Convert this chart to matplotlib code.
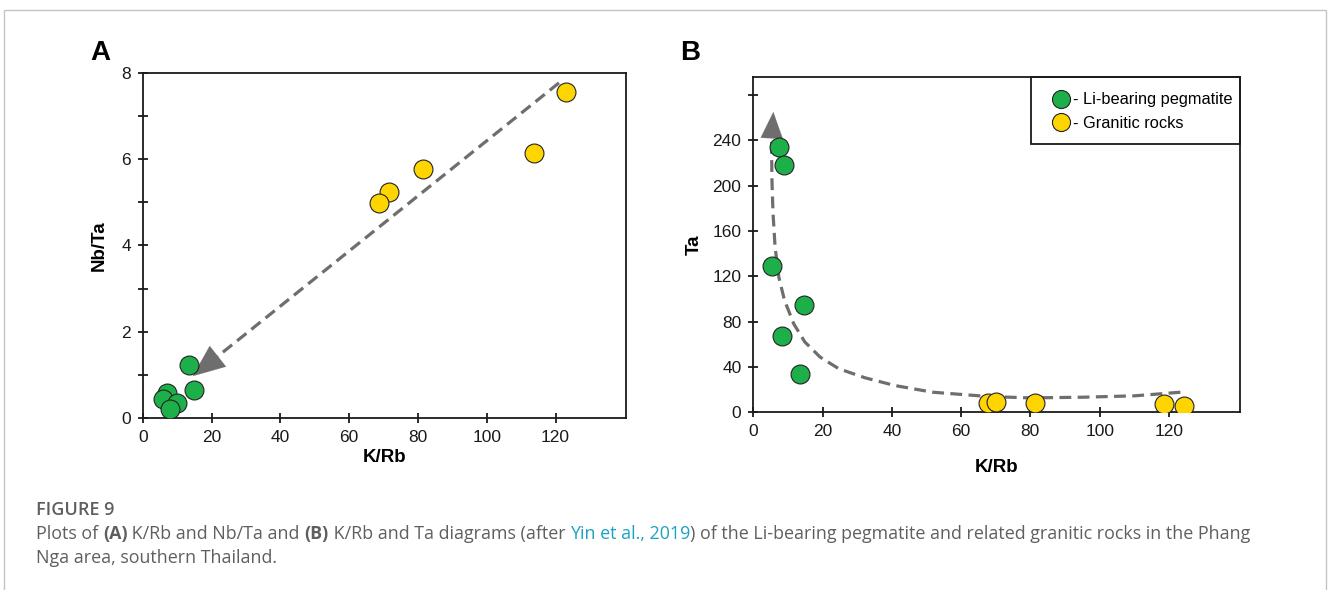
import matplotlib
matplotlib.use("Agg")
import matplotlib.pyplot as plt
from matplotlib.lines import Line2D
from matplotlib.patches import Rectangle

# ---- data ----
# panel A: K/Rb vs Nb/Ta
a_peg_krb = [13.4, 14.8, 7.1, 5.9, 10.0, 7.8]
a_peg_nbta = [1.24, 0.64, 0.58, 0.43, 0.35, 0.22]
a_gra_krb = [123.1, 113.8, 81.4, 71.5, 68.8]
a_gra_nbta = [7.57, 6.14, 5.77, 5.23, 4.99]
a_arrow_tail = (121.0, 7.77)
a_arrow_tip = (14.5, 0.97)

# panel B: K/Rb vs Ta
b_peg_krb = [7.4, 9.0, 5.4, 14.6, 8.4, 13.5]
b_peg_ta = [234, 218, 129, 94.5, 67, 34]
b_gra_krb = [67.8, 70.2, 81.2, 118.7, 124.3]
b_gra_ta = [8.0, 9.4, 8.6, 7.4, 5.9]
# hand drawn trend curve (dashed), from right to the arrow head
b_curve_krb = [123.3, 110.0, 95.1, 79.9, 68.0, 51.8, 40.9, 32.3, 24.7, 19.3,
               14.9, 11.7, 9.0, 7.4, 6.3, 5.7, 5.4, 5.3, 5.3]
b_curve_ta = [17.7, 14.5, 13.3, 12.7, 13.9, 17.7, 23.6, 30.4, 38.4, 48.7,
              62, 78, 99, 119, 146, 176, 205, 231, 243]
b_arrow_tip = (5.8, 265)

green = "#1db04a"
yellow = "#ffd500"
grey = "#6e6e6e"
cap_grey = "#5f5f5f"
link = "#1aa3c4"

plt.rcParams['font.family'] = ['Liberation Sans', 'DejaVu Sans']
cap_font = ["Open Sans", "DejaVu Sans"]

fig = plt.figure(figsize=(13.28, 5.9), dpi=100)

# outer frame
fig.patches.append(Rectangle((4 / 1328, -0.05), 1322 / 1328, 1.05 - 10 / 590,
                             transform=fig.transFigure, fill=False,
                             edgecolor="#c4c4c4", lw=1.0))

axA = fig.add_axes([0.1075, 0.2915, 0.3639, 0.5848])
axB = fig.add_axes([0.5672, 0.3012, 0.3665, 0.5688])


def style(ax):
    for s in ax.spines.values():
        s.set_linewidth(1.3)
        s.set_color("#1a1a1a")
    ax.tick_params(direction="inout", length=7, width=1.3, labelsize=12.5,
                   pad=5, color="#1a1a1a", labelcolor="#1a1a1a")
    ax.set_xlim(0, 140.5)
    ax.set_xticks([0, 20, 40, 60, 80, 100, 120])


mk = dict(s=185, edgecolors="#222222", linewidths=0.8, zorder=3)
dash = (0, (3.7, 2))

# ---- panel A ----
style(axA)
axA.set_ylim(0, 8)
axA.set_yticks(range(0, 9))
axA.set_yticklabels([str(v) if v % 2 == 0 else "" for v in range(0, 9)])
axA.plot([a_arrow_tail[0], a_arrow_tip[0] + 4], [a_arrow_tail[1], a_arrow_tip[1] + 0.25],
         color=grey, lw=2.3, ls=dash, zorder=2)
axA.annotate("", xy=a_arrow_tip, xytext=(a_arrow_tip[0] + 7, a_arrow_tip[1] + 0.44),
             arrowprops=dict(arrowstyle="-|>,head_length=2.3,head_width=0.95",
                             color=grey, lw=0.1, shrinkA=0, shrinkB=0), zorder=2)
axA.scatter(a_gra_krb, a_gra_nbta, color=yellow, **mk)
axA.scatter(a_peg_krb, a_peg_nbta, color=green, **mk)
axA.set_xlabel("K/Rb", fontsize=13.5, fontweight="bold", labelpad=3)
axA.set_ylabel("Nb/Ta", fontsize=13.5, fontweight="bold", labelpad=10)
fig.text(100 / 1328, 1 - 53 / 590, "A", fontsize=20, fontweight="bold",
         ha="center", va="center")

# ---- panel B ----
style(axB)
axB.set_ylim(0, 296)
axB.set_yticks([0, 40, 80, 120, 160, 200, 240, 280])
axB.set_yticklabels(["0", "40", "80", "120", "160", "200", "240", ""])
axB.plot(b_curve_krb, b_curve_ta, color=grey, lw=2.3, ls=dash, zorder=2)
axB.annotate("", xy=b_arrow_tip, xytext=(b_curve_krb[-1], b_curve_ta[-1] - 4),
             arrowprops=dict(arrowstyle="-|>,head_length=1.9,head_width=0.8",
                             color=grey, lw=0.1, shrinkA=0, shrinkB=0), zorder=2)
axB.scatter(b_gra_krb, b_gra_ta, color=yellow, **mk)
axB.scatter(b_peg_krb, b_peg_ta, color=green, **mk)
axB.set_xlabel("K/Rb", fontsize=13.5, fontweight="bold", labelpad=14)
axB.set_ylabel("Ta", fontsize=13.5, fontweight="bold", labelpad=7)
fig.text(690 / 1328, 1 - 53 / 590, "B", fontsize=20, fontweight="bold",
         ha="center", va="center")

handles = [Line2D([], [], ls="", marker="o", markersize=13, markerfacecolor=c,
                  markeredgecolor="#222222", markeredgewidth=0.8) for c in (green, yellow)]
axB.legend(handles, ["- Li-bearing pegmatite", "- Granitic rocks"], loc="center left",
           bbox_to_anchor=(0.612, 0.8957), frameon=False, fontsize=11.8,
           borderpad=0, handlelength=1.15, handletextpad=0.2, labelspacing=0.52,
           borderaxespad=0)
axB.add_patch(Rectangle((0.5706, 0.7995), 0.4294, 0.2005, transform=axB.transAxes,
                        fill=False, lw=1.3, edgecolor="#1a1a1a", clip_on=False, zorder=4))

# ---- caption ----
fig.text(36 / 1328, 1 - 510 / 590, "FIGURE 9", fontsize=13, color=cap_grey,
         fontweight="semibold", family=cap_font, va="center")

pieces = [("Plots of ", "normal", cap_grey), ("(A)", "bold", cap_grey),
          (" K/Rb and Nb/Ta and ", "normal", cap_grey), ("(B)", "bold", cap_grey),
          (" K/Rb and Ta diagrams (after ", "normal", cap_grey),
          ("Yin et al., 2019", "normal", link),
          (") of the Li-bearing pegmatite and related granitic rocks in the Phang",
           "normal", cap_grey)]
cap_size = 12.9
prev = fig.text(36 / 1328, 1 - 543 / 590, pieces[0][0], fontsize=cap_size,
                color=pieces[0][2], family=cap_font, va="bottom")
for txt, w, c in pieces[1:]:
    # each piece starts where the previous one ends
    prev = plt.annotate(txt, xy=(1, 0), xycoords=prev, va="bottom", ha="left",
                        fontsize=cap_size, color=c, fontweight=w, family=cap_font,
                        annotation_clip=False)
fig.text(36 / 1328, 1 - 567 / 590, "Nga area, southern Thailand.", va="bottom",
         fontsize=cap_size, color=cap_grey, family=cap_font)

fig.savefig("out.png", dpi=100)
